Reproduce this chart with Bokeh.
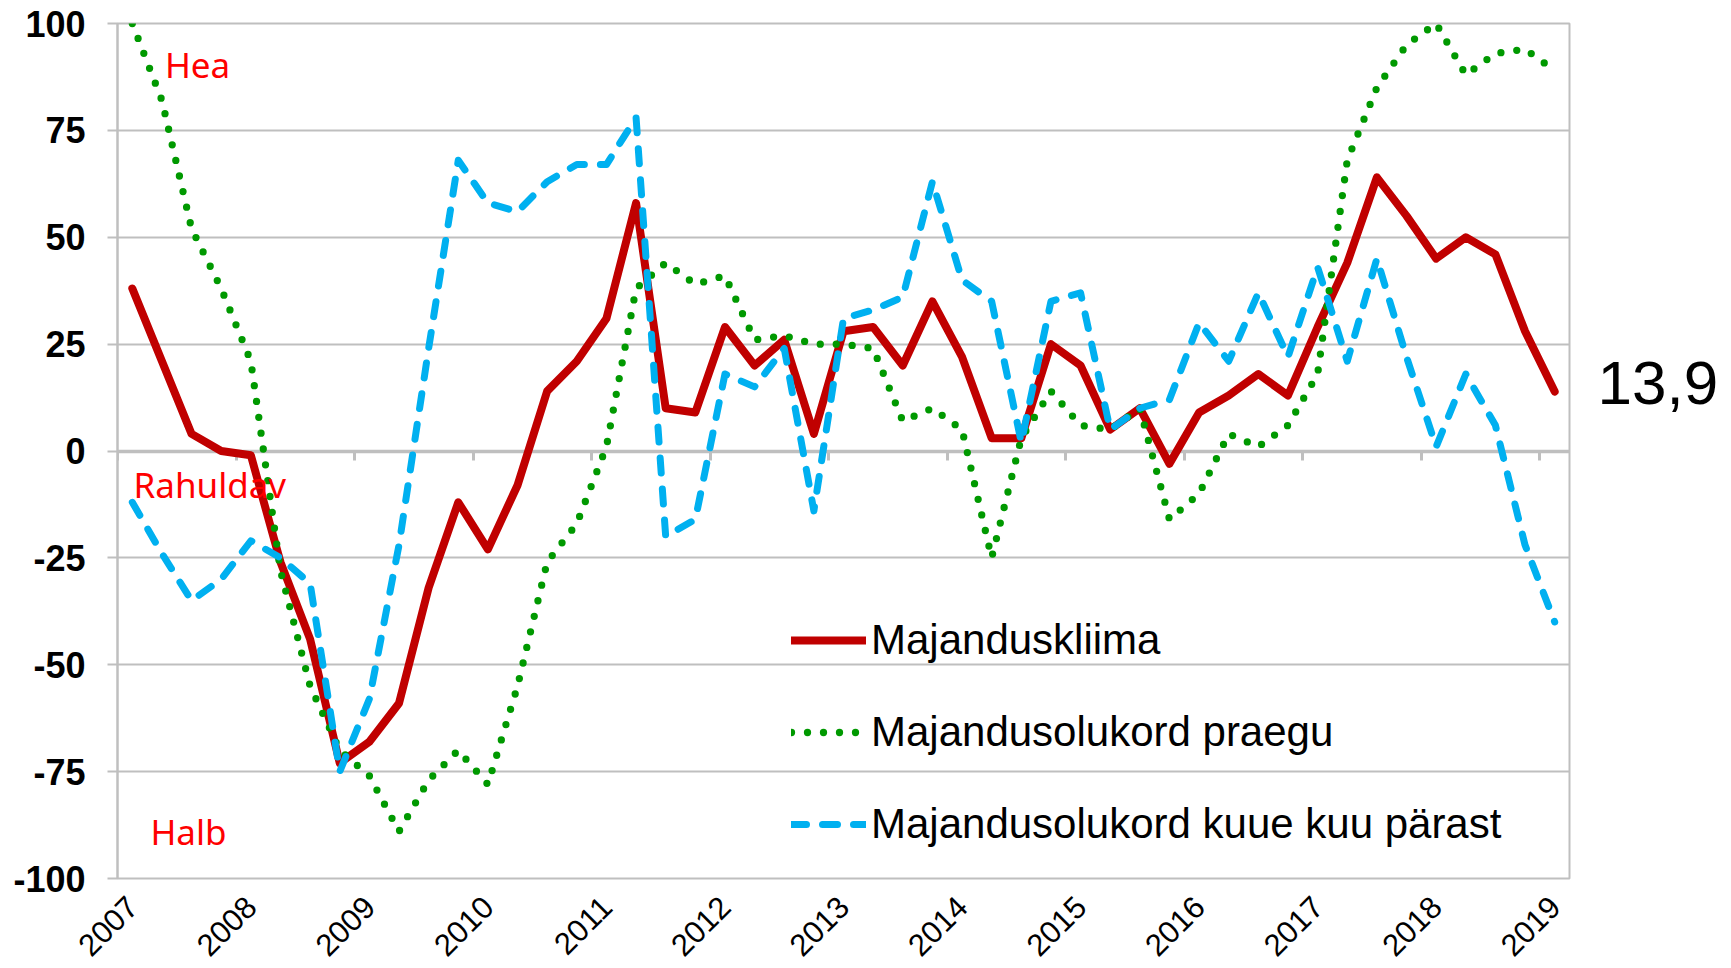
import math
from bokeh.plotting import figure
from bokeh.models import Range1d, FixedTicker, LinearAxis, Label, Legend, LegendItem
from bokeh.embed import file_html
from bokeh.resources import INLINE

# ---- data (quarterly, 2007 Q1 .. 2019 Q1) ----
years = ["2007", "2008", "2009", "2010", "2011", "2012", "2013",
         "2014", "2015", "2016", "2017", "2018", "2019"]

klima = [38, 21, 4, 0, -1, -26, -44, -73, -68, -59, -32, -12, -23, -8, 14,
         21, 31, 58, 10, 9, 29, 20, 26, 4, 28, 29, 20, 35, 22, 3, 3, 25, 20,
         5, 10, -3, 9, 13, 18, 13, 29, 44, 64, 55, 45, 50, 46, 28, 13.9]

praegu = [100, 82, 52, 38, 21, -28, -55, -70, -76, -89, -77, -70, -78, -55,
          -26, -17, 1, 38, 44, 39, 41, 26, 27, 25, 25, 24, 7, 10, 5, -25, 3,
          14, 6, 5, 10, -16, -10, 4, 1, 6, 18, 68, 85, 95, 100, 88, 93, 94, 89]

kuue = [-12, -24, -35, -30, -21, -25, -31, -75, -58, -22, 24, 68, 58, 56, 63,
        67, 67, 78, -20, -16, 18, 15, 24, -14, 31, 33, 36, 63, 40, 35, 2, 35,
        37, 5, 10, 12, 30, 21, 37, 22, 43, 21, 45, 22, 1, 18, 6, -22, -40]

labels = ["Majanduskliima", "Majandusolukord praegu",
          "Majandusolukord kuue kuu pärast"]
yticks = list(range(-100, 101, 25))

xs = list(range(len(klima)))
GRAY = "#BFBFBF"

p = figure(width=1725, height=968,
           x_range=Range1d(-0.5, len(klima) - 0.5), y_range=Range1d(-100, 100),
           output_backend="svg", toolbar_location=None,
           min_border_left=117, min_border_right=156,
           min_border_top=23, min_border_bottom=90)
p.background_fill_color = "white"
p.border_fill_color = "white"
p.outline_line_color = GRAY
p.outline_line_width = 2

p.yaxis.ticker = FixedTicker(ticks=yticks)
p.yaxis.major_label_overrides = {t: str(t) for t in yticks}
p.ygrid.ticker = FixedTicker(ticks=yticks)
p.ygrid.grid_line_color = GRAY
p.ygrid.grid_line_width = 2
p.xgrid.visible = False

p.yaxis.axis_line_color = GRAY
p.yaxis.axis_line_width = 2
p.yaxis.major_tick_in = 0
p.yaxis.major_tick_out = 10
p.yaxis.major_tick_line_color = GRAY
p.yaxis.major_tick_line_width = 2
p.yaxis.minor_tick_line_color = None
p.yaxis.major_label_text_font = "Liberation Sans"
p.yaxis.major_label_text_font_style = "bold"
p.yaxis.major_label_text_font_size = "36px"
p.yaxis.major_label_text_color = "black"
p.yaxis.major_label_standoff = 22

# year labels below the plot area
xt = [4 * k for k in range(len(years))]
p.xaxis.ticker = FixedTicker(ticks=xt)
p.xaxis.major_label_overrides = {t: y for t, y in zip(xt, years)}
p.xaxis.major_label_orientation = math.pi / 4
p.xaxis.axis_line_color = None
p.xaxis.major_tick_line_color = None
p.xaxis.minor_tick_line_color = None
p.xaxis.major_label_text_font = "Liberation Sans"
p.xaxis.major_label_text_font_size = "31px"
p.xaxis.major_label_text_color = "black"
p.xaxis.major_label_standoff = 17

# category axis crossing at zero (tick marks only)
zax = LinearAxis(fixed_location=0,
                 ticker=FixedTicker(ticks=[t - 0.5 for t in xt]),
                 axis_line_color=GRAY, axis_line_width=3.5,
                 major_tick_in=0, major_tick_out=9,
                 major_tick_line_color=GRAY, major_tick_line_width=3,
                 minor_tick_line_color=None,
                 major_label_text_color=None, major_label_standoff=0,
                 level="underlay")
p.add_layout(zax, "below")

# last value printed at the right of the plot (range nudged so the digits'
# optical centre sits on the value, as in the original)
p.extra_y_ranges = {"lbl": Range1d(-102.1, 97.9)}
rax = LinearAxis(y_range_name="lbl", ticker=FixedTicker(ticks=[klima[-1]]),
                 major_label_overrides={klima[-1]: str(klima[-1]).replace(".", ",")},
                 axis_line_color=None, major_tick_line_color=None,
                 minor_tick_line_color=None,
                 major_label_text_font="Liberation Sans",
                 major_label_text_font_size="62px",
                 major_label_text_color="black",
                 major_label_standoff=22)
p.add_layout(rax, "right")

r1 = p.line(xs, klima, line_color="#C00000", line_width=8,
            line_join="round", line_cap="round")
r2 = p.line(xs, praegu, line_color="#009900", line_width=7.3,
            line_dash="0 16", line_join="round", line_cap="round")
r3 = p.line(xs, kuue, line_color="#00B0F0", line_width=7,
            line_dash="15 16", line_join="round", line_cap="round")

legend = Legend(items=[LegendItem(label=labels[0], renderers=[r1]),
                       LegendItem(label=labels[1], renderers=[r2]),
                       LegendItem(label=labels[2], renderers=[r3])],
                location=(674, 8), glyph_width=75, glyph_height=92,
                label_height=92, spacing=0, padding=0, margin=0,
                border_line_color=None, background_fill_alpha=0,
                label_text_font="Liberation Sans", label_text_font_size="42px",
                label_text_color="black", label_standoff=5)
p.add_layout(legend)

for txt, x, y in [("Hea", 1.1, 84.9), ("Rahuldav", 0.04, -13.4), ("Halb", 0.61, -94.5)]:
    p.add_layout(Label(x=x, y=y, text=txt, text_color="#FF0000",
                       text_font="Noto Sans", text_font_size="35px",
                       text_baseline="bottom"))

open("out.html", "w").write(file_html(p, INLINE))
